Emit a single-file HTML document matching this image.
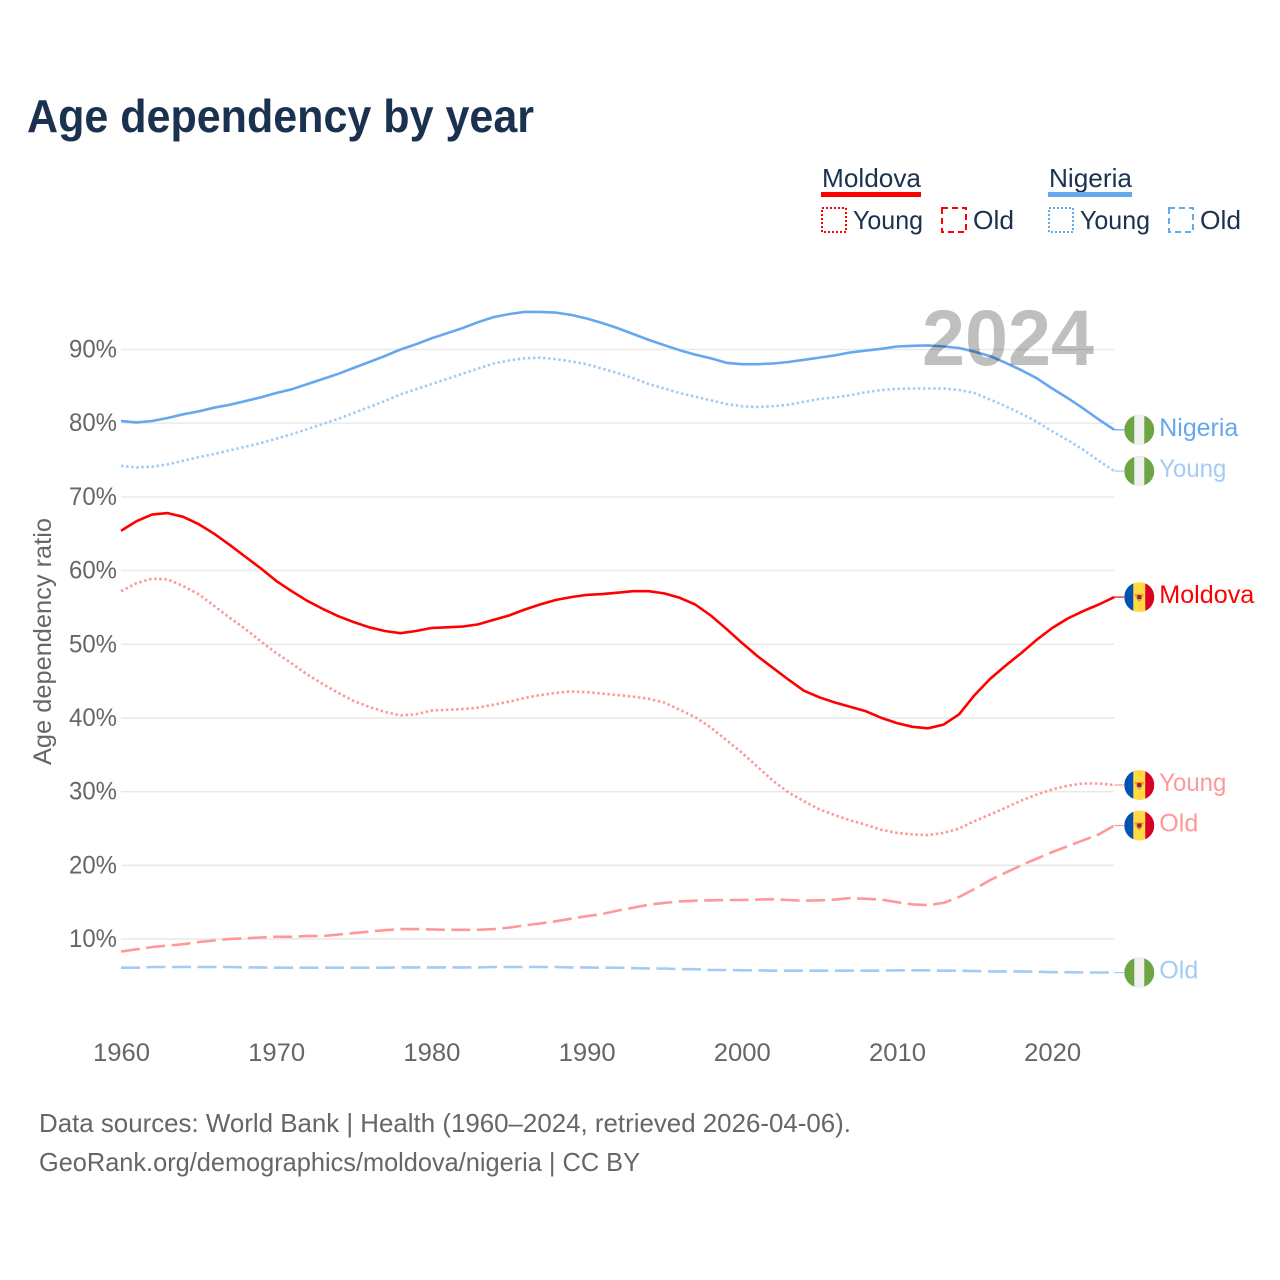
<!DOCTYPE html>
<html lang="en">
<head>
<meta charset="utf-8">
<title>Age dependency by year</title>
<style>
html,body{margin:0;padding:0;background:#fff;}
svg{display:block;font-family:"Liberation Sans",sans-serif;}
</style>
</head>
<body>
<svg id="chart" xmlns="http://www.w3.org/2000/svg" width="1280" height="1280" viewBox="0 0 1280 1280">
  <rect width="1280" height="1280" fill="#fff"/>
  <text x="27" y="132" font-size="46" font-weight="700" fill="#1a3150" textLength="507" lengthAdjust="spacingAndGlyphs">Age dependency by year</text>

  <g font-size="26" fill="#1a3150">
    <text x="822" y="187" textLength="99" lengthAdjust="spacingAndGlyphs">Moldova</text>
    <rect x="821" y="192" width="100" height="5" fill="#ff0000"/>
    <rect x="822" y="208" width="24" height="24" fill="none" stroke="#ff0000" stroke-width="2" stroke-dasharray="2 2"/>
    <text x="853" y="229" textLength="70" lengthAdjust="spacingAndGlyphs">Young</text>
    <rect x="942" y="208" width="24" height="24" fill="none" stroke="#ff0000" stroke-width="2" stroke-dasharray="6 4"/>
    <text x="973" y="229" textLength="41" lengthAdjust="spacingAndGlyphs">Old</text>

    <text x="1049" y="187" textLength="83" lengthAdjust="spacingAndGlyphs">Nigeria</text>
    <rect x="1048" y="192" width="84" height="5" fill="#64a8ee"/>
    <rect x="1049" y="208" width="24" height="24" fill="none" stroke="#64a8ee" stroke-width="2" stroke-dasharray="2 2"/>
    <text x="1080" y="229" textLength="70" lengthAdjust="spacingAndGlyphs">Young</text>
    <rect x="1169" y="208" width="24" height="24" fill="none" stroke="#64a8ee" stroke-width="2" stroke-dasharray="6 4"/>
    <text x="1200" y="229" textLength="41" lengthAdjust="spacingAndGlyphs">Old</text>
  </g>

  <g id="grid"></g>
  <g id="yticks"></g>
  <g id="xticks"></g>
  <text transform="translate(51 641.5) rotate(-90)" text-anchor="middle" font-size="25" fill="#666" textLength="247" lengthAdjust="spacingAndGlyphs">Age dependency ratio</text>

  <g id="lines"></g>
  <g id="ends"></g>

  <text x="922" y="365" font-size="79" font-weight="700" fill="#000" fill-opacity="0.25" textLength="172" lengthAdjust="spacingAndGlyphs">2024</text>

  <text x="39" y="1132" font-size="26" fill="#666" textLength="812" lengthAdjust="spacingAndGlyphs">Data sources: World Bank | Health (1960–2024, retrieved 2026-04-06).</text>
  <text x="39" y="1171" font-size="26" fill="#666" textLength="601" lengthAdjust="spacingAndGlyphs">GeoRank.org/demographics/moldova/nigeria | CC BY</text>
</svg>
<script>
const startYear = 1960;
const yTickValues = [10, 20, 30, 40, 50, 60, 70, 80, 90];
const xTickYears = [1960, 1970, 1980, 1990, 2000, 2010, 2020];

const moldovaTotal = [
  65.4, 66.7, 67.6, 67.8, 67.3, 66.3, 65.0, 63.5, 61.9, 60.3,
  58.6, 57.2, 55.9, 54.8, 53.8, 53.0, 52.3, 51.8, 51.5, 51.8,
  52.2, 52.3, 52.4, 52.7, 53.3, 53.9, 54.7, 55.4, 56.0, 56.4,
  56.7, 56.8, 57.0, 57.2, 57.2, 56.9, 56.3, 55.4, 53.9, 52.1,
  50.2, 48.4, 46.8, 45.2, 43.7, 42.8, 42.1, 41.5, 40.9, 40.0,
  39.3, 38.8, 38.6, 39.1, 40.5, 43.1, 45.3, 47.1, 48.8, 50.6,
  52.2, 53.5, 54.5, 55.4, 56.4
];
const moldovaYoung = [
  57.2, 58.3, 58.9, 58.8, 57.9, 56.8, 55.2, 53.6, 52.1, 50.4,
  48.8, 47.4, 45.9, 44.6, 43.4, 42.3, 41.5, 40.8, 40.35, 40.5,
  41.0, 41.1, 41.2, 41.4, 41.8, 42.2, 42.7, 43.1, 43.4, 43.6,
  43.5, 43.3, 43.1, 42.9, 42.6, 42.1, 41.1, 40.1, 38.7, 37.0,
  35.3, 33.4, 31.5, 29.9, 28.7, 27.6, 26.8, 26.1, 25.5, 24.8,
  24.4, 24.2, 24.1, 24.4, 25.0, 26.0, 26.9, 27.8, 28.8, 29.6,
  30.3, 30.8, 31.1, 31.1, 30.9
];
const moldovaOld = [
  8.3, 8.6, 8.9, 9.1, 9.3, 9.6, 9.8, 10.0, 10.1, 10.2,
  10.3, 10.3, 10.4, 10.4, 10.6, 10.8, 11.0, 11.2, 11.35, 11.35,
  11.3, 11.25, 11.25, 11.25, 11.35, 11.55, 11.85, 12.1, 12.4, 12.75,
  13.1, 13.4, 13.85, 14.25, 14.65, 14.9, 15.1, 15.2, 15.25, 15.3,
  15.3, 15.35, 15.4, 15.3, 15.2, 15.25, 15.35, 15.55, 15.45, 15.35,
  15.0, 14.7, 14.6, 14.9, 15.7, 16.8, 18.0, 19.0, 20.0, 20.9,
  21.8, 22.6, 23.4, 24.2, 25.4
];
const nigeriaTotal = [
  80.3, 80.1, 80.3, 80.7, 81.2, 81.6, 82.1, 82.5, 83.0, 83.5,
  84.1, 84.6, 85.3, 86.0, 86.7, 87.5, 88.3, 89.1, 90.0, 90.7,
  91.5, 92.2, 92.9, 93.7, 94.4, 94.8, 95.1, 95.1, 95.0, 94.7,
  94.2, 93.6, 92.9, 92.1, 91.3, 90.6, 89.9, 89.3, 88.8, 88.2,
  88.0, 88.0, 88.1, 88.3, 88.6, 88.9, 89.2, 89.6, 89.85, 90.1,
  90.4, 90.5, 90.55, 90.4, 90.2, 89.7, 89.1, 88.2, 87.2, 86.1,
  84.7, 83.4, 82.0, 80.5, 79.1
];
const nigeriaYoung = [
  74.2, 74.0, 74.1, 74.4, 74.9, 75.4, 75.8, 76.3, 76.8, 77.3,
  77.9, 78.5, 79.2, 79.9, 80.6, 81.4, 82.2, 83.0, 83.9, 84.6,
  85.3, 86.0, 86.7, 87.4, 88.1, 88.5, 88.8, 88.9, 88.7, 88.4,
  88.0, 87.4, 86.8, 86.1, 85.3, 84.7, 84.1, 83.6, 83.1, 82.6,
  82.3, 82.2, 82.3, 82.5, 82.9, 83.3, 83.5, 83.8, 84.2, 84.5,
  84.65, 84.7, 84.7, 84.7, 84.5, 84.1, 83.2, 82.3, 81.3, 80.2,
  78.9, 77.7, 76.4, 74.9, 73.5
];
const nigeriaOld = [
  6.1, 6.1, 6.2, 6.2, 6.2, 6.2, 6.2, 6.2, 6.15, 6.15,
  6.1, 6.1, 6.1, 6.1, 6.1, 6.1, 6.1, 6.1, 6.15, 6.15,
  6.15, 6.15, 6.15, 6.15, 6.2, 6.2, 6.2, 6.2, 6.2, 6.15,
  6.15, 6.1, 6.1, 6.05, 6.0, 6.0, 5.9, 5.9, 5.8, 5.8,
  5.75, 5.75, 5.7, 5.7, 5.7, 5.7, 5.7, 5.7, 5.7, 5.7,
  5.75, 5.75, 5.75, 5.7, 5.7, 5.65, 5.6, 5.6, 5.6, 5.55,
  5.5, 5.5, 5.45, 5.45, 5.45
];

const NS = 'http://www.w3.org/2000/svg';
const xScale = function (year) { return 121 + (year - 1960) * 15.52; };
const yScale = function (v) { return 1012.7 - v * 7.369; };

function make(parent, tag, attrs) {
  const el = document.createElementNS(NS, tag);
  Object.keys(attrs).forEach(function (k) { el.setAttribute(k, attrs[k]); });
  parent.appendChild(el);
  return el;
}

const gridG = document.getElementById('grid');
const yG = document.getElementById('yticks');
const xG = document.getElementById('xticks');
const linesG = document.getElementById('lines');
const endsG = document.getElementById('ends');

yTickValues.forEach(function (v) {
  const line = make(gridG, 'line', { x1: 121, x2: 1114, y1: yScale(v), y2: yScale(v), stroke: '#e9e9e9', 'stroke-width': 1.5 });
  
  
  const label = make(yG, 'text', { x: 117, y: yScale(v) + 8, 'text-anchor': 'end', 'font-size': 25, fill: '#666', textLength: 48, lengthAdjust: 'spacingAndGlyphs' });
  label.textContent = v + '%';
  
  
});

xTickYears.forEach(function (yr) {
  const label = make(xG, 'text', { x: xScale(yr) + 0.5, y: 1061, 'text-anchor': 'middle', 'font-size': 25, fill: '#666', textLength: 57, lengthAdjust: 'spacingAndGlyphs' });
  label.textContent = String(yr);
  
  
});

const seriesList = [
  { key: 'moldova-young', values: moldovaYoung, color: '#ff9999', dash: '2.5 2.6', label: 'Young', width: 67, flag: 'md' },
  { key: 'moldova-old', values: moldovaOld, color: '#ff9999', dash: '19 6.5', label: 'Old', width: 39, flag: 'md' },
  { key: 'nigeria-young', values: nigeriaYoung, color: '#a2cbf5', dash: '2.5 2.6', label: 'Young', width: 67, flag: 'ng' },
  { key: 'nigeria-old', values: nigeriaOld, color: '#a2cbf5', dash: '19 6.5', label: 'Old', width: 39, flag: 'ng' },
  { key: 'moldova-total', values: moldovaTotal, color: '#ff0000', dash: '', label: 'Moldova', width: 95, flag: 'md' },
  { key: 'nigeria-total', values: nigeriaTotal, color: '#64a8ee', dash: '', label: 'Nigeria', width: 79, flag: 'ng' }
];

function drawFlag(g, kind, cx, cy) {
  const id = 'clip-' + kind + '-' + Math.round(cy * 10);
  const clip = make(g, 'clipPath', { id: id });
  make(clip, 'circle', { cx: cx, cy: cy, r: 15 });
  const f = make(g, 'g', { 'clip-path': 'url(#' + id + ')' });
  
  
  if (kind === 'ng') {
    make(f, 'rect', { x: cx - 15, y: cy - 15, width: 30, height: 30, fill: '#6da544' });
    make(f, 'rect', { x: cx - 5, y: cy - 15, width: 10, height: 30, fill: '#f0f0f0' });
  } else {
    make(f, 'rect', { x: cx - 15, y: cy - 15, width: 30, height: 30, fill: '#ffda44' });
    make(f, 'rect', { x: cx - 15, y: cy - 15, width: 9, height: 30, fill: '#0052b4' });
    make(f, 'rect', { x: cx + 6, y: cy - 15, width: 9, height: 30, fill: '#d80027' });
    make(f, 'polygon', { points: [cx - 5, cy - 3, cx + 5, cy - 3, cx + 2, cy + 3, cx, cy + 5, cx - 2, cy + 3].join(' '), fill: '#ff9811' });
    make(f, 'rect', { x: cx - 2, y: cy - 2, width: 4, height: 2, fill: '#d80027' });
    make(f, 'rect', { x: cx - 2, y: cy, width: 4, height: 2, fill: '#0052b4' });
  }
}

seriesList.forEach(function (s) {
  const pts = s.values.map(function (v, i) { return xScale(startYear + i).toFixed(1) + ',' + yScale(v).toFixed(1); }).join(' ');
  const attrs = { points: pts, fill: 'none', stroke: s.color, 'stroke-width': 2.6, 'stroke-linejoin': 'round' };
  if (s.dash) { attrs['stroke-dasharray'] = s.dash; }
  const line = make(linesG, 'polyline', attrs);
  
  

  const last = s.values[s.values.length - 1];
  const lastX = xScale(startYear + s.values.length - 1);
  const ly = yScale(last);
  const stub = make(endsG, 'line', { x1: lastX, x2: lastX + 10, y1: ly, y2: ly, stroke: s.color, 'stroke-width': 1.2 });
  
  
  drawFlag(endsG, s.flag, lastX + 25, ly);
  const label = make(endsG, 'text', { x: lastX + 45, y: ly + 6, 'font-size': 25, fill: s.color, textLength: s.width, lengthAdjust: 'spacingAndGlyphs' });
  label.textContent = s.label;
  
  
});
</script>
</body>
</html>
